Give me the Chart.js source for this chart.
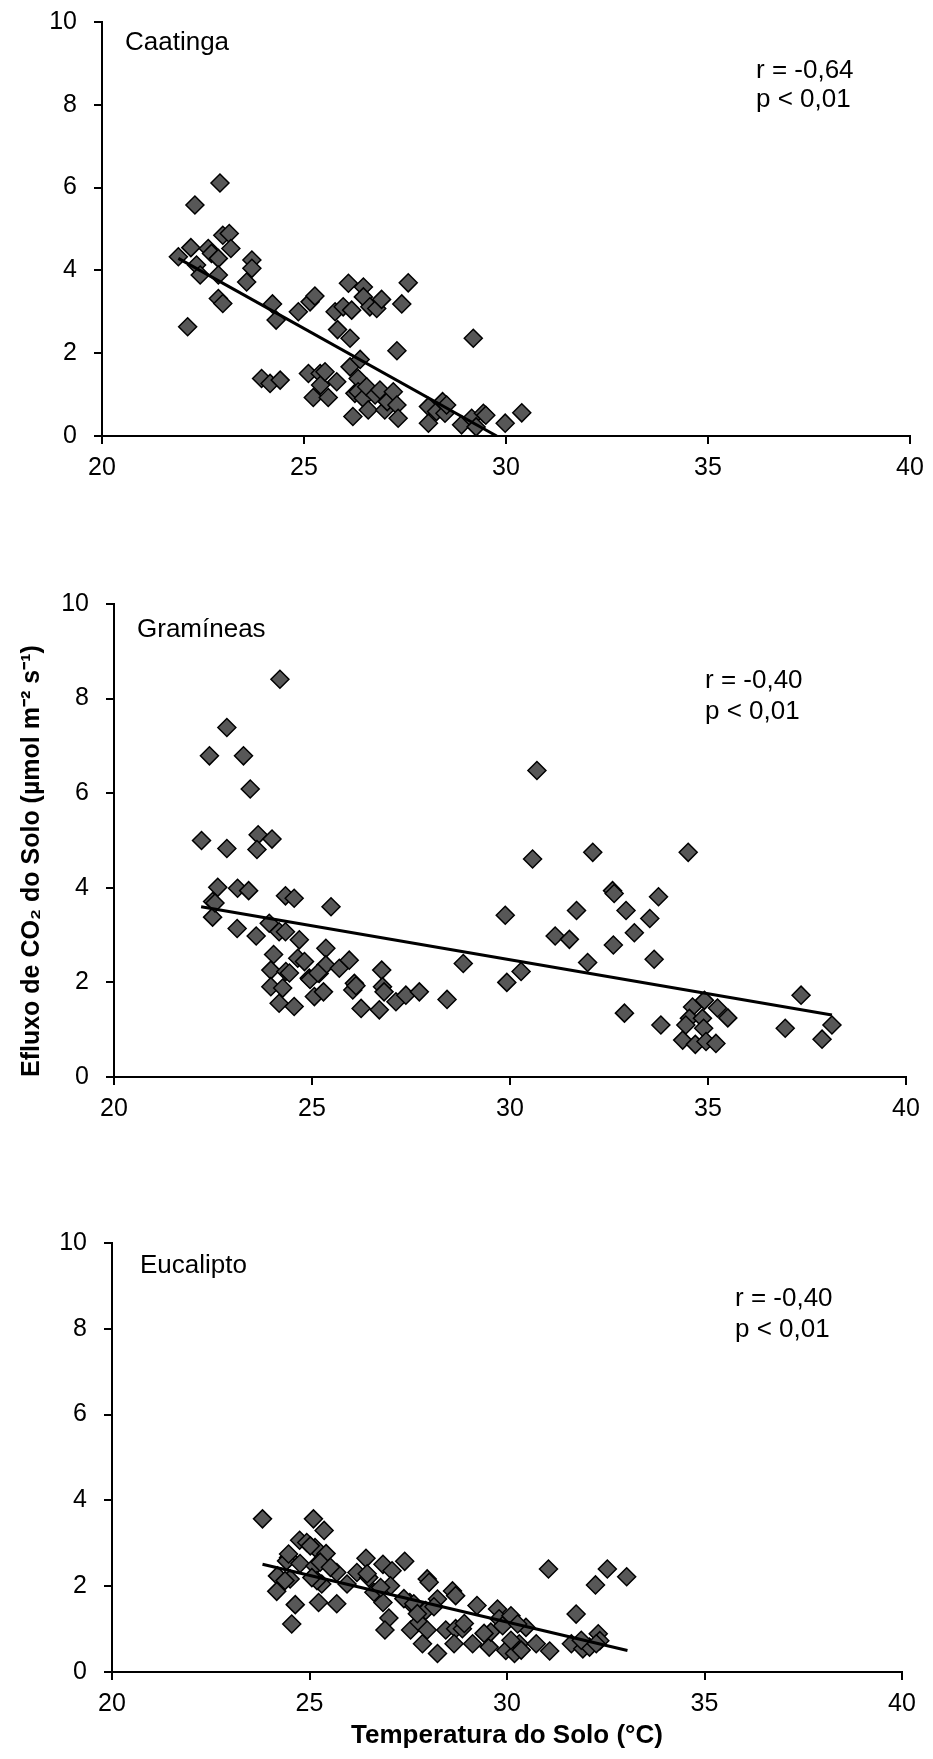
<!DOCTYPE html>
<html>
<head>
<meta charset="utf-8">
<script src="https://cdn.jsdelivr.net/npm/chart.js@4.4.0/dist/chart.umd.min.js"></script>
<style>
  body { margin: 0; background: #fff; width: 933px; height: 1759px; position: relative; overflow: hidden; }
  canvas { position: absolute; left: 0; }
</style>
</head>
<body>
<canvas id="caatinga" width="933" height="480" style="top:0px"></canvas>
<canvas id="gramineas" width="933" height="560" style="top:560px"></canvas>
<canvas id="eucalipto" width="933" height="559" style="top:1200px"></canvas>
<script>
// soil temperature (°C) and soil CO2 efflux (µmol m-2 s-1)
var caatingaTemp = [21.89, 22.20, 22.30, 22.34, 22.43, 22.12, 22.63, 22.71, 22.88, 22.88, 22.88, 22.99, 22.92, 22.99, 23.15, 23.19,
  23.58, 23.71, 23.71, 23.95, 24.16, 24.41, 24.22, 24.31, 24.86, 25.15, 25.27, 25.11, 25.23, 25.40, 25.41, 25.60, 25.52, 25.81,
  25.77, 25.83, 25.97, 26.10, 26.18, 26.14, 26.14, 26.21, 26.26, 26.34, 26.39, 26.47, 26.47, 26.34, 26.47, 26.59, 26.55, 26.63,
  26.80, 26.92, 26.76, 26.88, 27.00, 27.06, 27.21, 27.30, 27.33, 27.30, 27.42, 27.58, 28.08, 28.08, 28.28, 28.43, 28.49, 28.53,
  28.90, 29.19, 29.15, 29.26, 29.44, 29.50, 29.98, 30.39];
var caatingaFlux = [4.33, 4.55, 5.58, 4.13, 3.89, 2.64, 4.53, 4.41, 4.29, 3.89, 3.32, 3.20, 6.11, 4.85, 4.89, 4.53,
  3.72, 4.25, 4.05, 1.39, 1.27, 1.35, 3.19, 2.80, 3.00, 3.24, 3.38, 1.51, 0.93, 1.51, 1.23, 0.93, 1.55, 1.31,
  3.00, 2.57, 3.12, 3.69, 3.04, 2.36, 1.67, 0.47, 1.03, 1.39, 1.85, 3.60, 3.36, 1.07, 0.91, 0.63, 1.19, 3.12,
  3.08, 3.30, 0.99, 1.11, 0.63, 0.83, 1.07, 0.75, 0.43, 2.06, 3.19, 3.70, 0.71, 0.31, 0.59, 0.83, 0.55, 0.75,
  0.27, 2.36, 0.43, 0.22, 0.55, 0.50, 0.31, 0.56];
var caatingaTrendTemp = [21.89, 29.77];
var caatingaTrendFlux = [4.29, 0];

var gramineasTemp = [22.21, 22.85, 22.62, 22.49, 22.49, 23.11, 23.12, 23.40, 23.59, 23.44, 23.27, 23.64, 23.61, 23.99, 23.92, 24.33,
  24.55, 24.03, 24.17, 24.33, 24.68, 23.96, 23.96, 24.34, 24.26, 24.17, 24.55, 24.64, 24.81, 24.93, 25.06, 25.18, 25.35, 25.35,
  25.29, 25.48, 25.69, 25.94, 26.03, 26.07, 26.24, 26.70, 26.76, 26.78, 26.82, 27.12, 27.37, 27.71, 28.41, 28.82, 29.88, 29.92,
  30.28, 30.57, 30.68, 24.19, 22.85, 22.41, 24.43, 24.95, 25.15, 26.11, 22.55,
  32.09, 34.50, 32.59, 32.63, 33.75, 31.68, 32.93, 33.53, 33.14, 31.14, 31.50, 32.61, 31.96, 33.64, 32.89, 33.81, 37.35, 36.95,
  37.88, 38.13, 34.61, 34.91, 35.24, 35.50, 34.53, 34.44, 34.86, 34.89, 34.36, 34.68, 34.95, 35.20];
var gramineasFlux = [5.00, 4.83, 4.01, 3.71, 3.38, 3.14, 3.99, 3.94, 2.98, 6.09, 6.79, 5.12, 4.81, 5.03, 3.25, 3.83,
  3.78, 2.59, 3.07, 3.07, 2.90, 2.26, 1.91, 2.23, 1.88, 1.56, 1.49, 2.51, 2.44, 2.09, 1.70, 2.19, 2.72, 2.37,
  1.80, 3.60, 2.30, 2.47, 1.84, 1.98, 1.45, 1.42, 2.26, 1.91, 1.80, 1.59, 1.73, 1.80, 1.64, 2.40, 3.42, 2.00,
  2.23, 4.61, 6.48, 8.41, 7.39, 6.79, 2.20, 2.06, 2.20, 1.93, 3.68,
  4.75, 4.75, 3.94, 3.88, 3.81, 3.52, 3.52, 3.35, 3.05, 2.98, 2.91, 2.79, 2.42, 2.49, 1.35, 1.10, 1.73, 1.03,
  0.80, 1.10, 1.48, 1.62, 1.46, 1.25, 1.24, 1.10, 1.24, 1.03, 0.78, 0.69, 0.75, 0.71];
var gramineasTrendTemp = [22.20, 38.13];
var gramineasTrendFlux = [3.60, 1.31];

var eucaliptoTemp = [23.81, 25.10, 25.37, 24.75, 24.93, 25.14, 25.42, 24.47, 24.42, 24.76, 25.14, 24.19, 24.51, 24.17, 24.64, 24.55,
  25.23, 25.69, 25.31, 25.69, 25.95, 26.20, 26.43, 26.50, 26.63, 26.86, 27.09, 27.41, 27.05, 26.86, 27.01, 26.91, 27.54, 27.98,
  28.03, 27.94, 28.24, 27.56, 27.77, 27.98, 27.86, 28.24, 28.62, 28.70, 28.45, 28.70, 28.87, 28.66, 29.13, 29.24, 29.55, 29.59,
  29.76, 29.80, 29.89, 30.10, 29.97, 30.19, 30.31, 30.48, 30.74, 31.08, 31.05, 31.63, 31.75, 31.92, 32.09, 32.31, 32.24, 32.54,
  33.03, 32.35, 30.27, 24.47, 25.02, 25.27, 25.53, 25.19, 24.38, 25.06, 26.46, 26.80, 27.39, 27.64, 27.73, 28.15, 28.92, 29.42,
  30.10, 30.36, 31.88, 32.26];
var eucaliptoFlux = [3.57, 3.57, 3.30, 3.07, 3.02, 2.90, 2.76, 2.67, 2.59, 2.53, 2.47, 2.24, 2.17, 1.88, 1.57, 1.12,
  1.62, 1.59, 2.05, 2.32, 2.05, 2.32, 2.65, 2.20, 1.86, 2.51, 2.36, 2.58, 2.01, 1.62, 1.26, 0.98, 1.62, 2.17,
  2.09, 1.43, 1.70, 0.98, 1.16, 0.98, 0.66, 0.43, 1.89, 1.78, 0.98, 1.01, 1.01, 0.66, 0.66, 1.55, 0.58, 0.93,
  1.47, 1.24, 1.08, 1.31, 0.50, 0.43, 0.66, 1.04, 0.66, 0.49, 2.40, 0.66, 1.35, 0.54, 0.58, 0.89, 2.03, 2.40,
  2.22, 0.73, 1.12, 2.75, 2.94, 2.56, 2.44, 2.13, 2.13, 2.20, 2.29, 1.97, 1.71, 1.59, 1.36, 1.52, 1.13, 0.90,
  0.74, 0.51, 0.74, 0.66];
var eucaliptoTrendTemp = [23.81, 33.05];
var eucaliptoTrendFlux = [2.51, 0.50];

var xTicks = [20, 25, 30, 35, 40];
var yTicks = [0, 2, 4, 6, 8, 10];

var FONT = "'Liberation Sans', Arial, sans-serif";

function pairs(xs, ys) {
  return xs.map(function(x, i) { return { x: x, y: ys[i] }; });
}

function notesPlugin(notes) {
  return {
    id: 'notes',
    afterDraw: function(chart) {
      var ctx = chart.ctx;
      ctx.save();
      ctx.fillStyle = '#000';
      ctx.textBaseline = 'alphabetic';
      ctx.textAlign = 'left';
      notes.forEach(function(n) {
        ctx.font = '26px ' + FONT;
        ctx.fillText(n.text, n.x, n.y);
      });
      ctx.restore();
    }
  };
}

function makePanel(id, xs, ys, tx, ty, box, extra) {
  var axisGrid = { drawOnChartArea: false, drawTicks: true, tickLength: 8, color: '#000', lineWidth: 2 };
  var axisBorder = { display: true, color: '#000', width: 2 };
  var xScale = {
    type: 'linear', min: 20, max: 40,
    afterBuildTicks: function(s) { s.ticks = xTicks.map(function(v) { return { value: v }; }); },
    afterFit: function(s) { s.height = box.xHeight; s.paddingLeft = 0; s.paddingRight = 0; },
    ticks: { color: '#000', padding: 9, maxRotation: 0, font: { family: FONT, size: 25 } },
    grid: axisGrid, border: axisBorder,
    title: extra.xTitle || { display: false }
  };
  var yScale = {
    type: 'linear', min: 0, max: 10,
    afterBuildTicks: function(s) { s.ticks = yTicks.map(function(v) { return { value: v }; }); },
    afterFit: function(s) { s.width = box.yWidth; s.paddingTop = 0; s.paddingBottom = 0; },
    ticks: { color: '#000', padding: 17, font: { family: FONT, size: 25 } },
    grid: axisGrid, border: axisBorder,
    title: extra.yTitle || { display: false }
  };
  return new Chart(document.getElementById(id), {
    type: 'scatter',
    data: {
      datasets: [
        {
          data: pairs(tx, ty),
          showLine: true,
          borderColor: '#000',
          borderWidth: 3,
          pointRadius: 0,
          order: 0
        },
        {
          data: pairs(xs, ys),
          pointStyle: 'rectRot',
          pointRadius: 9,
          backgroundColor: '#575757',
          borderColor: '#000',
          borderWidth: 1.5,
          clip: false,
          order: 1
        }
      ]
    },
    options: {
      responsive: false,
      devicePixelRatio: 1,
      animation: false,
      events: [],
      layout: { padding: { left: 0, top: box.top, right: box.right, bottom: 0 } },
      plugins: { legend: { display: false }, tooltip: { enabled: false } },
      scales: { x: xScale, y: yScale }
    },
    plugins: [notesPlugin(extra.notes)]
  });
}

makePanel('caatinga', caatingaTemp, caatingaFlux, caatingaTrendTemp, caatingaTrendFlux,
  { top: 22, right: 23, yWidth: 102, xHeight: 44 },
  { notes: [
    { text: 'Caatinga', x: 125, y: 50 },
    { text: 'r = -0,64', x: 756, y: 78 },
    { text: 'p < 0,01', x: 756, y: 107 }
  ] });

makePanel('gramineas', gramineasTemp, gramineasFlux, gramineasTrendTemp, gramineasTrendFlux,
  { top: 44, right: 27, yWidth: 114, xHeight: 43 },
  { notes: [
    { text: 'Gramíneas', x: 137, y: 77 },
    { text: 'r = -0,40', x: 705, y: 128 },
    { text: 'p < 0,01', x: 705, y: 159 }
  ],
    yTitle: {
      display: true, align: 'start', color: '#000',
      text: 'Efluxo de CO₂ do Solo (µmol m⁻² s⁻¹)',
      font: { family: FONT, size: 25, weight: 'bold' },
      padding: { top: 17, bottom: 0 }
    }
  });

makePanel('eucalipto', eucaliptoTemp, eucaliptoFlux, eucaliptoTrendTemp, eucaliptoTrendFlux,
  { top: 43, right: 31, yWidth: 112, xHeight: 87 },
  { notes: [
    { text: 'Eucalipto', x: 140, y: 73 },
    { text: 'r = -0,40', x: 735, y: 106 },
    { text: 'p < 0,01', x: 735, y: 137 }
  ],
    xTitle: {
      display: true, color: '#000',
      text: 'Temperatura do Solo (°C)',
      font: { family: FONT, size: 26, weight: 'bold' },
      padding: { top: 0, bottom: 8 }
    }
  });
</script>
</body>
</html>
